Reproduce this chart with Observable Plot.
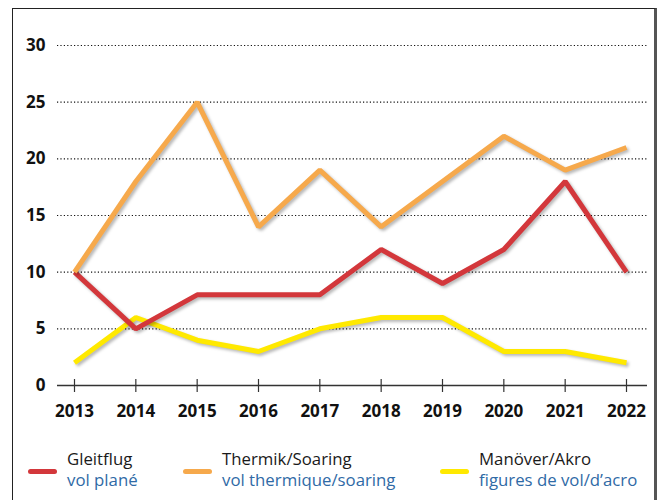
<!DOCTYPE html>
<html>
<head>
<meta charset="utf-8">
<script src="https://cdn.jsdelivr.net/npm/d3@7"></script>
<script src="https://cdn.jsdelivr.net/npm/@observablehq/plot@0.6"></script>
<style>
  body { margin: 0; background: #fff; font-family: "Open Sans", sans-serif; }
  #wrap { position: relative; width: 661px; height: 500px; overflow: hidden; }
  #frame { position: absolute; left: 12px; top: 8px; width: 641px; height: 520px;
    border-left: 1.5px solid #222; border-top: 1.5px solid #222; border-right: 3px solid #555; }
  #chart { position: absolute; left: 0; top: 0; }
  g[aria-label="line"] path { filter: drop-shadow(2px 2px 1.5px rgba(0,0,0,0.28)); }
  .leg { position: absolute; top: 448px; font-size: 16.8px; line-height: 21px; }
  .leg .sw { position: absolute; left: -39px; top: 21px; width: 29px; height: 5px; border-radius: 3px; }
  .leg .de { color: #1a1a1a; }
  .leg .fr { color: #2f6aa6; }
</style>
</head>
<body>
<div id="wrap">
  <div id="frame"></div>
  <div id="chart"></div>
  <div id="legend"></div>
</div>
<script>
const years = [2013, 2014, 2015, 2016, 2017, 2018, 2019, 2020, 2021, 2022];
const gleitflug = [10, 5, 8, 8, 8, 12, 9, 12, 18, 10];
const thermik = [10, 18, 25, 14, 19, 14, 18, 22, 19, 21];
const manoever = [2, 6, 4, 3, 5, 6, 6, 3, 3, 2];
const seriesDe = ["Gleitflug", "Thermik/Soaring", "Manöver/Akro"];
const seriesFr = ["vol plané", "vol thermique/soaring", "figures de vol/d’acro"];
const colors = ["#d3373b", "#f6a94c", "#ffe900"];
const yTicks = [5, 10, 15, 20, 25, 30];

const valuesBySeries = [gleitflug, thermik, manoever];
const drawOrder = [2, 0, 1];
const data = drawOrder.flatMap(s => years.map((yr, i) => ({series: seriesDe[s], year: yr, value: valuesBySeries[s][i]})));

const font = "'Open Sans', sans-serif";
const chart = Plot.plot({
  width: 661,
  height: 430,
  marginLeft: 57,
  marginRight: 14,
  marginTop: 45,
  marginBottom: 45,
  style: {fontFamily: font, background: "transparent", overflow: "visible"},
  x: {type: "linear", domain: [2013, 2022], insetLeft: 17, insetRight: 21},
  y: {domain: [0, 30]},
  color: {domain: seriesDe, range: colors},
  marks: [
    Plot.ruleY(yTicks, {stroke: "#111", strokeWidth: 1.1, strokeDasharray: "1.2,2.2"}),
    Plot.ruleY([0], {stroke: "#333", strokeWidth: 1.5}),
    Plot.axisY({ticks: [0, ...yTicks], tickSize: 0, tickPadding: 12, fontSize: 17, fontWeight: "bold", fill: "#111", label: null, tickFormat: d => String(d)}),
    Plot.axisX({ticks: years, tickSize: 13, dy: -6, stroke: "#333", strokeWidth: 1.2, tickFormat: () => "", label: null}),
    Plot.axisX({ticks: years, tickSize: 0, tickPadding: 19, fontSize: 17, fontWeight: "bold", fill: "#111", label: null, tickFormat: d => String(d)}),
    Plot.line(data, {x: "year", y: "value", z: "series", stroke: "series", strokeWidth: 5, strokeLinejoin: "miter", strokeLinecap: "butt"})
  ]
});
document.getElementById("chart").appendChild(chart);

const legendLeft = [67, 222, 479];
const legend = document.getElementById("legend");
seriesDe.forEach((name, i) => {
  const d = document.createElement("div");
  d.className = "leg";
  d.style.left = legendLeft[i] + "px";
  d.innerHTML = `<div class="sw" style="background:${colors[i]}"></div><div class="de">${name}</div><div class="fr">${seriesFr[i]}</div>`;
  legend.appendChild(d);
});
</script>
</body>
</html>
